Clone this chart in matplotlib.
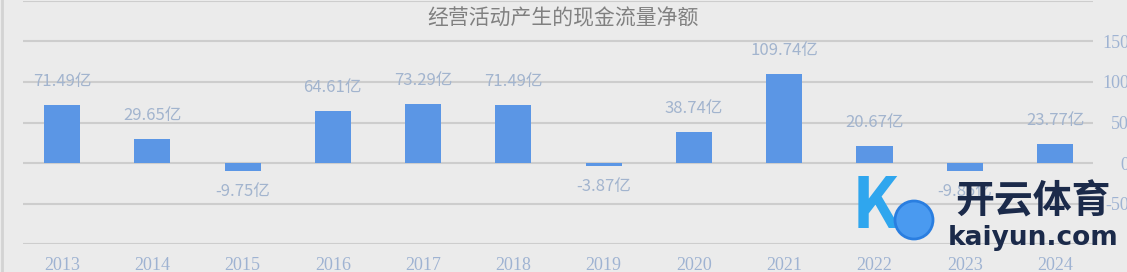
import numpy as np
import matplotlib.pyplot as plt
from matplotlib.lines import Line2D
from matplotlib.patches import Circle

# data
years = ["2013", "2014", "2015", "2016", "2017", "2018",
         "2019", "2020", "2021", "2022", "2023", "2024"]
values = [71.49, 29.65, -9.75, 64.61, 73.29, 71.49,
          -3.87, 38.74, 109.74, 20.67, -9.85, 23.77]
ytick_vals = [-100, -50, 0, 50, 100, 150, 200]
ytick_text = ["", "-50", "0", "50", "100", "150", ""]
title = "经营活动产生的现金流量净额"

W, H = 1127, 272
bg = "#ebebeb"
bar_color = "#5b96e5"
label_color = "#a2b4ce"
tick_color = "#9fb3d2"

plt.rcParams['font.family'] = ['Noto Sans CJK SC', 'DejaVu Sans']

fig = plt.figure(figsize=(W / 100, H / 100), dpi=100, facecolor=bg)
ax = fig.add_axes([23 / W, (H - 244) / H, (1093 - 23) / W, 243 / H])
ax.set_facecolor(bg)

x = np.arange(len(years))
bars = ax.bar(x, values, width=0.4, color=bar_color, zorder=3)

ax.set_xlim(-0.432, 11.42)
ax.set_ylim(-100, 200)
ax.set_yticks(ytick_vals)
ax.set_yticklabels(ytick_text)
ax.yaxis.tick_right()
ax.tick_params(axis='y', length=0, pad=26, labelsize=13, labelcolor=tick_color)
for lab in ax.get_yticklabels():
    lab.set_horizontalalignment('right')
    lab.set_family('Liberation Serif')
ax.set_xticks(x)
ax.set_xticklabels(years, family='Liberation Serif')
ax.tick_params(axis='x', length=0, pad=9, labelsize=13, labelcolor=tick_color)

ax.grid(axis='y', color='#cdcdcd', linewidth=1.5, zorder=0)
for s in ax.spines.values():
    s.set_visible(False)

# value labels
for xi, v in zip(x, values):
    if v >= 0:
        off = 17
    else:
        off = -15
    ax.annotate(f"{v:.2f}亿", (xi, v), xytext=(0, off), textcoords='offset points',
                ha='center', va='center', fontsize=12, color=label_color, zorder=4)

fig.text(0.5, 1 - 18 / H, title, ha='center', va='center', fontsize=15,
         color='#808080')

# left border
fig.add_artist(Line2D([2 / W, 2 / W], [0, 1], color='#d3d3d3', lw=2))

# watermark (logo)
fig.add_artist(Circle((9.14, (H - 220) / 100), 0.19, transform=fig.dpi_scale_trans,
                      facecolor='#4a9af0', edgecolor='#2a7ee0', lw=2, zorder=10))
fig.text(875 / W, 1 - 208 / H, "K", ha='center', va='center', fontsize=50,
         fontstyle='italic', fontweight='bold', color='#2fa6ee', zorder=9)
fig.text(1033 / W, 1 - 202 / H, "开云体育", ha='center', va='center', fontsize=28,
         fontweight='bold', color='#1b2a4a', zorder=10)
fig.text(1033 / W, 1 - 238 / H, "kaiyun.com", ha='center', va='center', fontsize=19,
         fontweight='bold', color='#1b2a4a', family='DejaVu Sans', zorder=10)

fig.savefig("out.png", dpi=100, facecolor=bg)
